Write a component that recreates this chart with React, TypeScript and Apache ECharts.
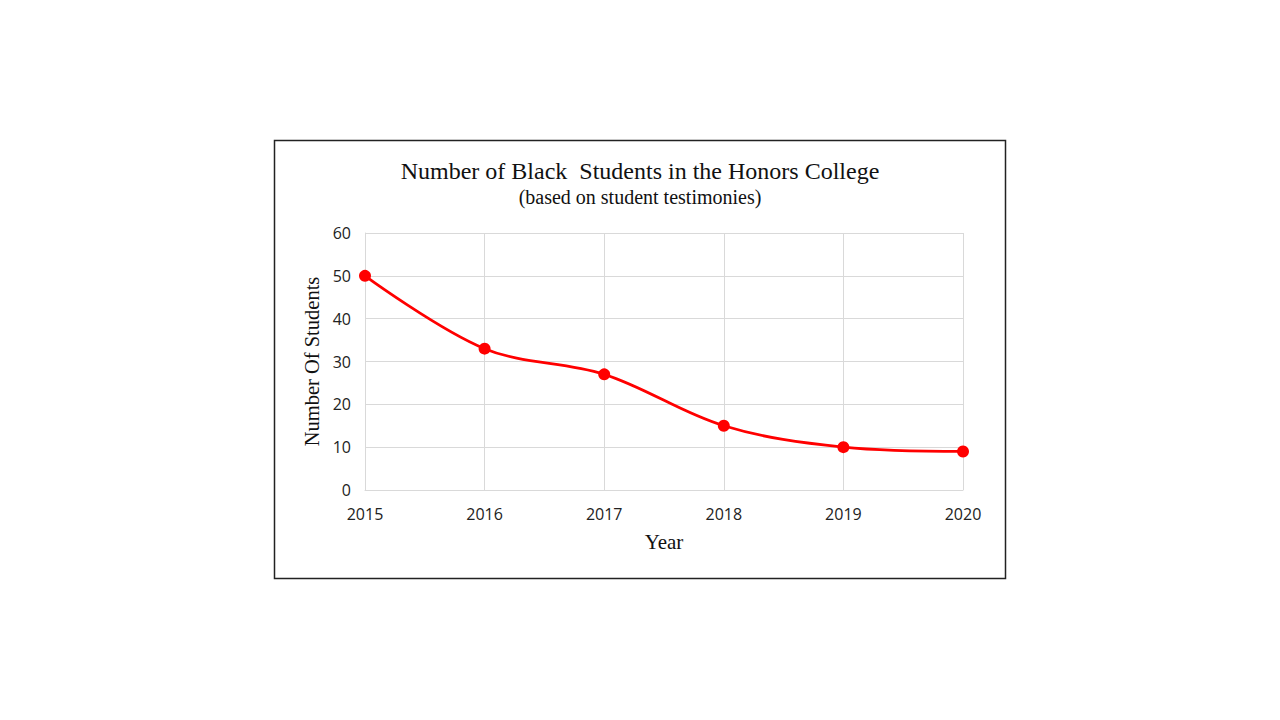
import React, { useEffect, useRef } from "react";
import * as echarts from "echarts";

const years = ["2015", "2016", "2017", "2018", "2019", "2020"];
const students = [50, 33, 27, 15, 10, 9];
const titleText = "Number of Black  Students in the Honors College";
const subtitleText = "(based on student testimonies)";
const yAxisTitle = "Number Of Students";
const xAxisTitle = "Year";

export default function App() {
  const ref = useRef<HTMLDivElement>(null);
  useEffect(() => {
    const chart = echarts.init(ref.current!, null, { renderer: "svg" });
    const serif = "'Liberation Serif', 'Times New Roman', serif";
    const sans = "'Open Sans', 'Liberation Sans', sans-serif";
    chart.setOption({
      animation: false,
      backgroundColor: "#ffffff",
      graphic: [
        {
          type: "rect",
          shape: { x: 274.5, y: 140.5, width: 731, height: 438 },
          style: { fill: "none", stroke: "#222", lineWidth: 1.5 },
          z: 0,
        },
        {
          type: "text",
          x: 640,
          y: 171,
          style: {
            text: titleText,
            font: `24px ${serif}`,
            fill: "#111",
            align: "center",
            verticalAlign: "middle",
          },
        },
        {
          type: "text",
          x: 640,
          y: 197,
          style: {
            text: subtitleText,
            font: `20px ${serif}`,
            fill: "#111",
            align: "center",
            verticalAlign: "middle",
          },
        },
      ],
      grid: { left: 365, right: 317, top: 233, bottom: 230, containLabel: false },
      xAxis: {
        type: "category",
        data: years,
        boundaryGap: false,
        name: xAxisTitle,
        nameLocation: "middle",
        nameGap: 41,
        nameTextStyle: { fontFamily: serif, fontSize: 21, color: "#111" },
        axisLine: { lineStyle: { color: "#d9d9d9", width: 1 } },
        axisTick: { show: false },
        axisLabel: { fontFamily: sans, fontSize: 16, color: "#222", margin: 16 },
        splitLine: { show: true, lineStyle: { color: "#d9d9d9", width: 1 } },
      },
      yAxis: {
        type: "value",
        min: 0,
        max: 60,
        interval: 10,
        name: yAxisTitle,
        nameLocation: "middle",
        nameGap: 43,
        nameRotate: 90,
        nameTextStyle: { fontFamily: serif, fontSize: 20.5, color: "#111" },
        axisLine: { show: true, lineStyle: { color: "#d9d9d9", width: 1 } },
        axisTick: { show: false },
        axisLabel: { fontFamily: sans, fontSize: 16, color: "#222", margin: 14 },
        splitLine: { show: true, lineStyle: { color: "#d9d9d9", width: 1 } },
      },
      series: [
        {
          type: "line",
          data: students,
          smooth: 0.35,
          symbol: "circle",
          symbolSize: 12,
          lineStyle: { color: "#ff0000", width: 2.75 },
          itemStyle: { color: "#ff0000" },
        },
      ],
    });
    return () => chart.dispose();
  }, []);
  return (
    <div
      ref={ref}
      style={{ position: "fixed", left: 0, top: 0, width: 1280, height: 720 }}
    />
  );
}
